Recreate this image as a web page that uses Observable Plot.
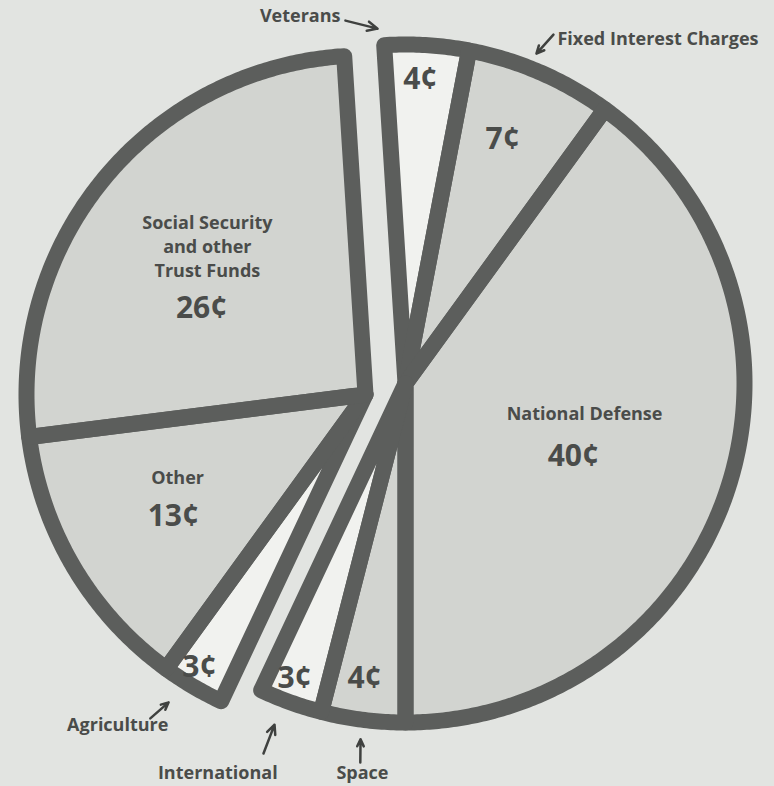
<!DOCTYPE html>
<html><head><meta charset="utf-8">
<script src="https://cdn.jsdelivr.net/npm/d3@7"></script>
<script src="https://cdn.jsdelivr.net/npm/@observablehq/plot@0.6"></script>
<style>
html,body{margin:0;padding:0;background:#e2e4e1;}
#chart svg{display:block}
</style></head><body><div id="chart"></div>
<script>
// ---- data ----
const categories = ["Veterans","Fixed Interest Charges","National Defense","Space","International","Agriculture","Other","Social Security and other Trust Funds"];
const cents = [4, 7, 40, 4, 3, 3, 13, 26];
const groups = ["main","main","main","main","main","left","left","left"];
const shades = ["white","gray","gray","gray","white","white","gray","gray"];
const valueLabels = ["4¢","7¢","40¢","4¢","3¢","3¢","13¢","26¢"];
const insideNames = [null, null, "National Defense", null, null, null, "Other", "Social Security\nand other\nTrust Funds"];
const outsideNames = ["Veterans","Fixed Interest Charges", null, "Space","International","Agriculture", null, null];

// ---- layout (polar positions: clock angle in degrees, radius as fraction of pie radius) ----
const W = 774, H = 786;
const Rpx = 339;                 // radius of the outline centreline, px
const hubPx = [405, 383];        // centre of the main group, px
const explode = [-40 / Rpx, -11 / Rpx]; // offset of the pulled-out group
const startDeg = -3.6;
const valuePos = [[2.8,0.898],[21.7,0.775],[113.5,0.540],[187.9,0.879],[200.6,0.930],[211.3,0.943],[237.6,0.671],[297.7,0.546]];
const namePos  = [null,null,[99.2,0.535],null,null,null,[246.4,0.605],[313.3,0.641]];
const outText  = [[349.96,1.0995,"end"],[23.84,1.109,"start"],null,[186.3,1.157,"middle"],[205.7,1.277,"middle"],[216.8,1.220,"middle"],null,null];
const outArrow = [[350.6,1.085,355.5,1.050],[22.98,1.118,21.65,1.047],null,[186.8,1.126,187.2,1.058],[201.0,1.169,201.0,1.078],[213.6,1.147,212.6,1.078],null,null];

const palette = {white: "#f1f2ef", gray: "#d2d4d0"};
const ink = "#5c5e5c", textInk = "#4a4c4a";
const font = "'Open Sans', 'DejaVu Sans', sans-serif";

function pt(group, deg, r) {
  const o = group === "left" ? explode : [0, 0];
  const t = deg * Math.PI / 180;
  return [o[0] + r * Math.sin(t), o[1] + r * Math.cos(t)];
}

let acc = 0;
const slices = cents.map((v, i) => {
  const a0 = startDeg + acc / 100 * 360; acc += v;
  const a1 = startDeg + acc / 100 * 360;
  return {i, name: categories[i], a0, a1, group: groups[i], shade: shades[i]};
});

const poly = [];
for (const s of slices) {
  const hub = pt(s.group, 0, 0);
  poly.push({id: s.i, shade: s.shade, x: hub[0], y: hub[1]});
  const n = Math.ceil((s.a1 - s.a0) / 0.5);
  for (let k = 0; k <= n; k++) {
    const p = pt(s.group, s.a0 + (s.a1 - s.a0) * k / n, 1);
    poly.push({id: s.i, shade: s.shade, x: p[0], y: p[1]});
  }
  poly.push({id: s.i, shade: s.shade, x: hub[0], y: hub[1]});
}

const values = slices.map(s => { const p = pt(s.group, valuePos[s.i][0], valuePos[s.i][1]); return {x: p[0], y: p[1], t: valueLabels[s.i]}; });
const names = slices.filter(s => insideNames[s.i]).map(s => { const p = pt(s.group, namePos[s.i][0], namePos[s.i][1]); return {x: p[0], y: p[1], t: insideNames[s.i]}; });
const outs = slices.filter(s => outsideNames[s.i]).map(s => { const o = outText[s.i]; const p = pt(s.group, o[0], o[1]); return {x: p[0], y: p[1], t: outsideNames[s.i], anchor: o[2]}; });
const arrows = slices.filter(s => outArrow[s.i]).map(s => { const a = outArrow[s.i]; const p1 = pt(s.group, a[0], a[1]); const p2 = pt(s.group, a[2], a[3]); return {x1: p1[0], y1: p1[1], x2: p2[0], y2: p2[1]}; });

const xd = [-hubPx[0] / Rpx, (W - hubPx[0]) / Rpx];
const yd = [(hubPx[1] - H) / Rpx, hubPx[1] / Rpx];

const textMark = (data, opts) => Plot.text(data, {x: "x", y: "y", text: "t", fill: textInk, fontFamily: font, ...opts});

const chart = Plot.plot({
  width: W, height: H,
  margin: 0,
  x: {domain: xd, axis: null},
  y: {domain: yd, axis: null},
  style: {background: "#e2e4e1"},
  marks: [
    Plot.line(poly, {x: "x", y: "y", z: "id", fill: d => palette[d.shade], stroke: null, curve: "linear"}),
    Plot.line(poly, {x: "x", y: "y", z: "id", fill: "none", stroke: ink, strokeWidth: 16, strokeLinejoin: "round", strokeLinecap: "round", curve: "linear"}),
    textMark(values, {fontSize: 30, fontWeight: 700}),
    textMark(names, {fontSize: 18, fontWeight: 700, lineHeight: 1.32}),
    ...["start","middle","end"].map(a => textMark(outs.filter(d => d.anchor === a), {fontSize: 18, fontWeight: 700, textAnchor: a})),
    Plot.arrow(arrows, {x1: "x1", y1: "y1", x2: "x2", y2: "y2", stroke: "#3f413f", strokeWidth: 2.5, headLength: 9, headAngle: 50})
  ],
  color: {type: "identity"}
});
document.getElementById("chart").append(chart);
</script></body></html>
